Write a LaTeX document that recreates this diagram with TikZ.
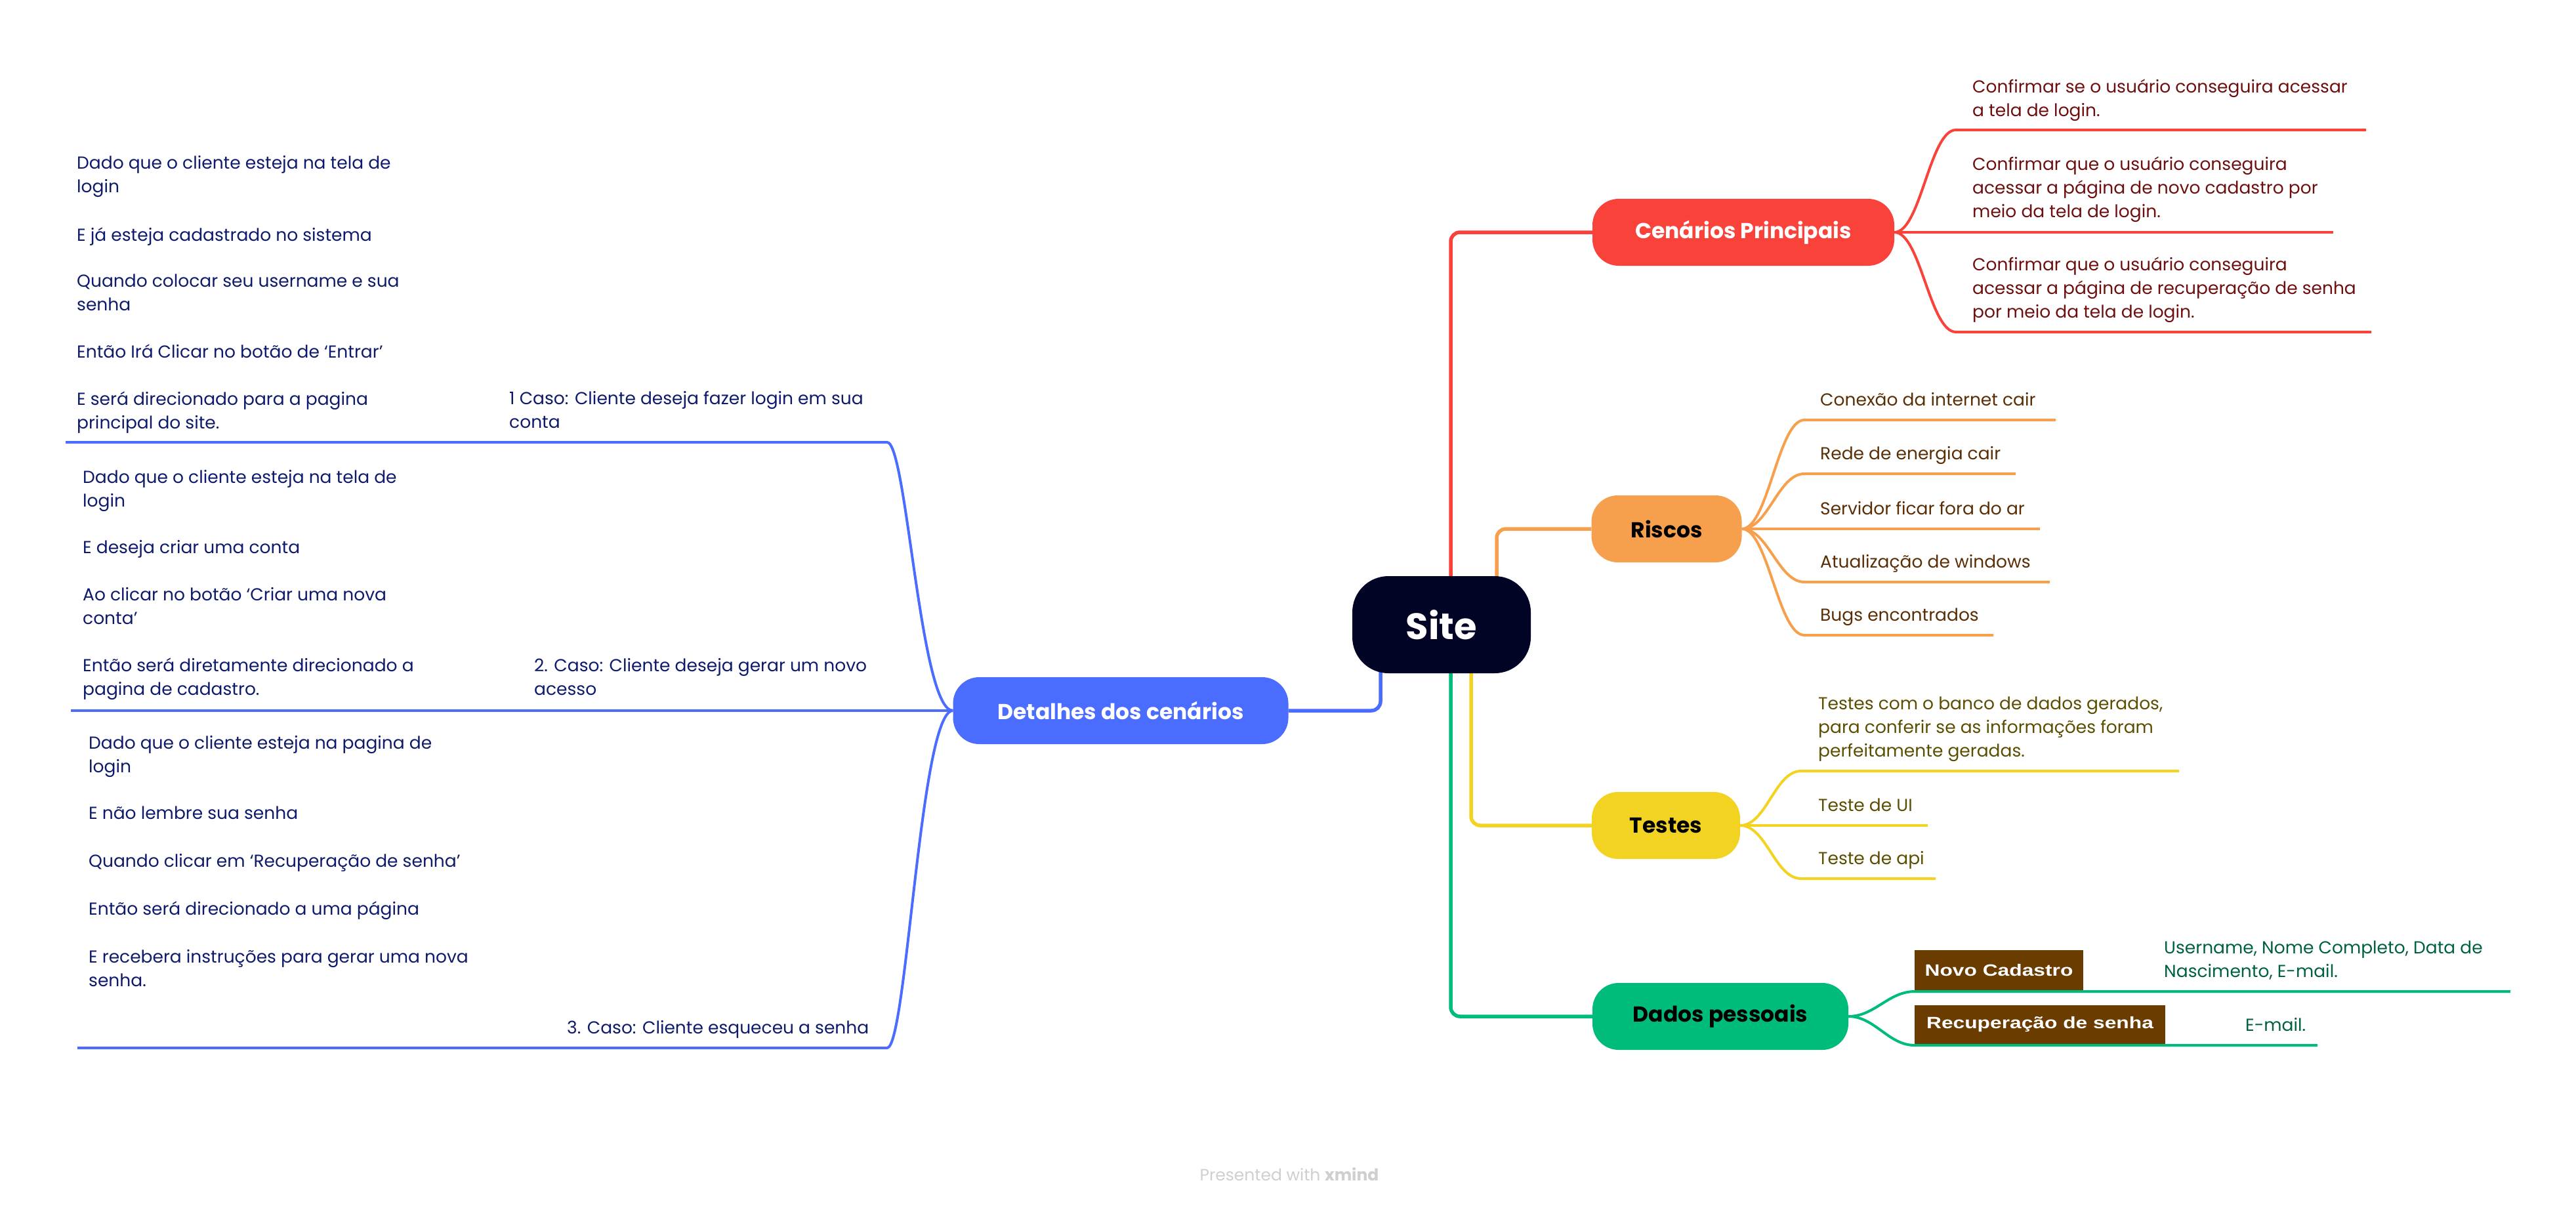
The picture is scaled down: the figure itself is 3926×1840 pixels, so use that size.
\documentclass[tikz,border=0pt]{standalone}
\usepackage{fontspec}
\setmainfont{Poppins}
\newfontfamily\lblfont{Liberation Sans}[FakeStretch=1.27]
\usetikzlibrary{backgrounds}
\definecolor{cRed}{HTML}{F9423A}
\definecolor{cOrange}{HTML}{F6A04D}
\definecolor{cYellow}{HTML}{F3D321}
\definecolor{cGreen}{HTML}{00BC7B}
\definecolor{cBlue}{HTML}{4A6CFF}
\definecolor{cSite}{HTML}{020426}
\definecolor{tRed}{HTML}{6E0F0F}
\definecolor{tOrange}{HTML}{5A2E05}
\definecolor{tYellow}{HTML}{5B4E00}
\definecolor{tGreen}{HTML}{00613E}
\definecolor{tBlue}{HTML}{0E1A6B}
\definecolor{cBrown}{HTML}{6B3C00}
\definecolor{cFoot}{HTML}{CFCFCF}
\tikzset{
  topic/.style={rounded corners=40bp, inner sep=0pt, minimum height=102bp,
    font=\fontsize{33bp}{40bp}\selectfont\bfseries},
  leaf/.style={anchor=base west, inner sep=0pt, align=left,
    font=\fontsize{26.5bp}{36bp}\selectfont},
  main/.style={line width=5.5bp, rounded corners=14bp},
  sub/.style={line width=4bp},
  lbl/.style={fill=cBrown, text=white, inner sep=0pt,
    font=\lblfont\fontsize{25bp}{30bp}\selectfont\bfseries}
}
\begin{document}
\begin{tikzpicture}[x=1bp,y=-1bp]
\useasboundingbox (0,0) rectangle (3926,1840);
% central and main topics
\node[fill=cSite, rounded corners=55bp, minimum width=272bp, minimum height=148bp, inner sep=0pt,
  text=white, font=\fontsize{56bp}{60bp}\selectfont\bfseries] (site) at (2197,952) {Site};
\node[topic, fill=cRed, text=white, minimum width=460bp] (cen) at (2657,354) {Cenários Principais};
\node[topic, fill=cOrange, text=black, minimum width=229bp] (ris) at (2540,806) {Riscos};
\node[topic, fill=cYellow, text=black, minimum width=226bp] (tes) at (2539,1258) {Testes};
\node[topic, fill=cGreen, text=black, minimum width=390bp] (dad) at (2622,1549) {Dados pessoais};
\node[topic, fill=cBlue, text=white, minimum width=511bp] (det) at (1708,1083) {Detalhes dos cenários};

% Cenarios Principais leaves (anchor = baseline of last line)
\coordinate (cu1) at (2981,198); \coordinate (cu1e) at (3606,198);
\coordinate (cu2) at (2981,354); \coordinate (cu2e) at (3556,354);
\coordinate (cu3) at (2981,506); \coordinate (cu3e) at (3614,506);
\node[leaf, text=tRed] (c1) at (3006,177) {Confirmar se o usuário conseguira acessar\\a tela de login.};
\node[leaf, text=tRed] (c2) at (3006,331) {Confirmar que o usuário conseguira\\acessar a página de novo cadastro por\\meio da tela de login.};
\node[leaf, text=tRed] (c3) at (3006,484) {Confirmar que o usuário conseguira\\acessar a página de recuperação de senha\\por meio da tela de login.};

% Riscos leaves
\coordinate (ru1) at (2750,640); \coordinate (ru1e) at (3133,640);
\coordinate (ru2) at (2750,722); \coordinate (ru2e) at (3072,722);
\coordinate (ru3) at (2750,806); \coordinate (ru3e) at (3109,806);
\coordinate (ru4) at (2750,887); \coordinate (ru4e) at (3124,887);
\coordinate (ru5) at (2750,968); \coordinate (ru5e) at (3038,968);
\node[leaf, text=tOrange] (r1) at (2774,618) {Conexão da internet cair};
\node[leaf, text=tOrange] (r2) at (2774,700) {Rede de energia cair};
\node[leaf, text=tOrange] (r3) at (2774,784) {Servidor ficar fora do ar};
\node[leaf, text=tOrange] (r4) at (2774,865) {Atualização de windows};
\node[leaf, text=tOrange] (r5) at (2774,946) {Bugs encontrados};

% Testes leaves
\coordinate (tu1) at (2745,1175); \coordinate (tu1e) at (3321,1175);
\coordinate (tu2) at (2745,1258); \coordinate (tu2e) at (2938,1258);
\coordinate (tu3) at (2745,1339); \coordinate (tu3e) at (2950,1339);
\node[leaf, text=tYellow] (t1) at (2771,1153) {Testes com o banco de dados gerados,\\para conferir se as informações foram\\perfeitamente geradas.};
\node[leaf, text=tYellow] (t2) at (2771,1236) {Teste de UI};
\node[leaf, text=tYellow] (t3) at (2771,1317) {Teste de api};

% Dados pessoais leaves
\coordinate (du1) at (2918,1511); \coordinate (du1e) at (3826,1511);
\coordinate (du2) at (2918,1593); \coordinate (du2e) at (3532,1593);
\node[lbl, minimum width=257bp, minimum height=61bp] (nc) at (3046.5,1478.5) {Novo Cadastro};
\node[lbl, minimum width=382bp, minimum height=59bp] (rs) at (3109,1561.5) {Recuperação de senha};
\node[leaf, text=tGreen] (d1) at (3298,1489) {Username, Nome Completo, Data de\\Nascimento, E-mail.};
\node[leaf, text=tGreen] (d2) at (3422,1571) {E-mail.};

% Detalhes: case labels
\coordinate (lu1) at (1352,674); \coordinate (lu1e) at (100,674);
\coordinate (lu2e) at (108,1083);
\coordinate (lu3) at (1352,1597); \coordinate (lu3e) at (118,1597);
\node[leaf, text=tBlue] (k1) at (776,652) {1 Caso: Cliente deseja fazer login em sua\\conta};
\node[leaf, text=tBlue] (k2) at (814,1059) {2. Caso: Cliente deseja gerar um novo\\acesso};
\node[leaf, text=tBlue] (k3) at (864,1575) {3. Caso: Cliente esqueceu a senha};

% case 1 details
\node[leaf, text=tBlue] (a1) at (117,293) {Dado que o cliente esteja na tela de\\login};
\node[leaf, text=tBlue] (a2) at (117,367) {E já esteja cadastrado no sistema};
\node[leaf, text=tBlue] (a3) at (117,473) {Quando colocar seu username e sua\\senha};
\node[leaf, text=tBlue] (a4) at (117,545) {Então Irá Clicar no botão de ‘Entrar’};
\node[leaf, text=tBlue] (a5) at (117,653) {E será direcionado para a pagina\\principal do site.};
% case 2 details
\node[leaf, text=tBlue] (b1) at (126,772) {Dado que o cliente esteja na tela de\\login};
\node[leaf, text=tBlue] (b2) at (126,843) {E deseja criar uma conta};
\node[leaf, text=tBlue] (b3) at (126,951) {Ao clicar no botão ‘Criar uma nova\\conta’};
\node[leaf, text=tBlue] (b4) at (126,1059) {Então será diretamente direcionado a\\pagina de cadastro.};
% case 3 details
\node[leaf, text=tBlue] (e1) at (135,1177) {Dado que o cliente esteja na pagina de\\login};
\node[leaf, text=tBlue] (e2) at (135,1248) {E não lembre sua senha};
\node[leaf, text=tBlue] (e3) at (135,1321) {Quando clicar em ‘Recuperação de senha’};
\node[leaf, text=tBlue] (e4) at (135,1394) {Então será direcionado a uma página};
\node[leaf, text=tBlue] (e5) at (135,1503) {E recebera instruções para gerar uma nova\\senha.};

% footer
\node[text=cFoot, inner sep=0pt, font=\fontsize{25bp}{30bp}\selectfont] (foot) at (1965,1790) {Presented with \textbf{xmind}};

\begin{scope}[on background layer]
  \draw[cRed, main] ([xshift=14bp]site.center) |- (cen.west);
  \draw[cOrange, main] ([xshift=84bp]site.center) |- (ris.west);
  \draw[cYellow, main] ([xshift=45bp]site.center) |- (tes.west);
  \draw[cGreen, main] ([xshift=14bp]site.center) |- (dad.west);
  \draw[cBlue, main] (det.east) -| ([xshift=-93bp]site.center);

  \draw[cRed, sub] (cen.east) .. controls +(40,0) and +(-40,0) .. (cu1) -- (cu1e);
  \draw[cRed, sub] (cen.east) -- (cu2) -- (cu2e);
  \draw[cRed, sub] (cen.east) .. controls +(40,0) and +(-40,0) .. (cu3) -- (cu3e);

  \draw[cOrange, sub] (ris.east) .. controls +(40,0) and +(-40,0) .. (ru1) -- (ru1e);
  \draw[cOrange, sub] (ris.east) .. controls +(40,0) and +(-40,0) .. (ru2) -- (ru2e);
  \draw[cOrange, sub] (ris.east) -- (ru3) -- (ru3e);
  \draw[cOrange, sub] (ris.east) .. controls +(40,0) and +(-40,0) .. (ru4) -- (ru4e);
  \draw[cOrange, sub] (ris.east) .. controls +(40,0) and +(-40,0) .. (ru5) -- (ru5e);

  \draw[cYellow, sub] (tes.east) .. controls +(40,0) and +(-40,0) .. (tu1) -- (tu1e);
  \draw[cYellow, sub] (tes.east) -- (tu2) -- (tu2e);
  \draw[cYellow, sub] (tes.east) .. controls +(40,0) and +(-40,0) .. (tu3) -- (tu3e);

  \draw[cGreen, sub] (dad.east) .. controls +(40,0) and +(-40,0) .. (du1) -- (du1e);
  \draw[cGreen, sub] (dad.east) .. controls +(40,0) and +(-40,0) .. (du2) -- (du2e);

  \draw[cBlue, sub] (det.west) .. controls +(-50,0) and +(30,0) .. (lu1) -- (lu1e);
  \draw[cBlue, sub] (det.west) -- (lu2e);
  \draw[cBlue, sub] (det.west) .. controls +(-50,0) and +(30,0) .. (lu3) -- (lu3e);
\end{scope}
\end{tikzpicture}
\end{document}
